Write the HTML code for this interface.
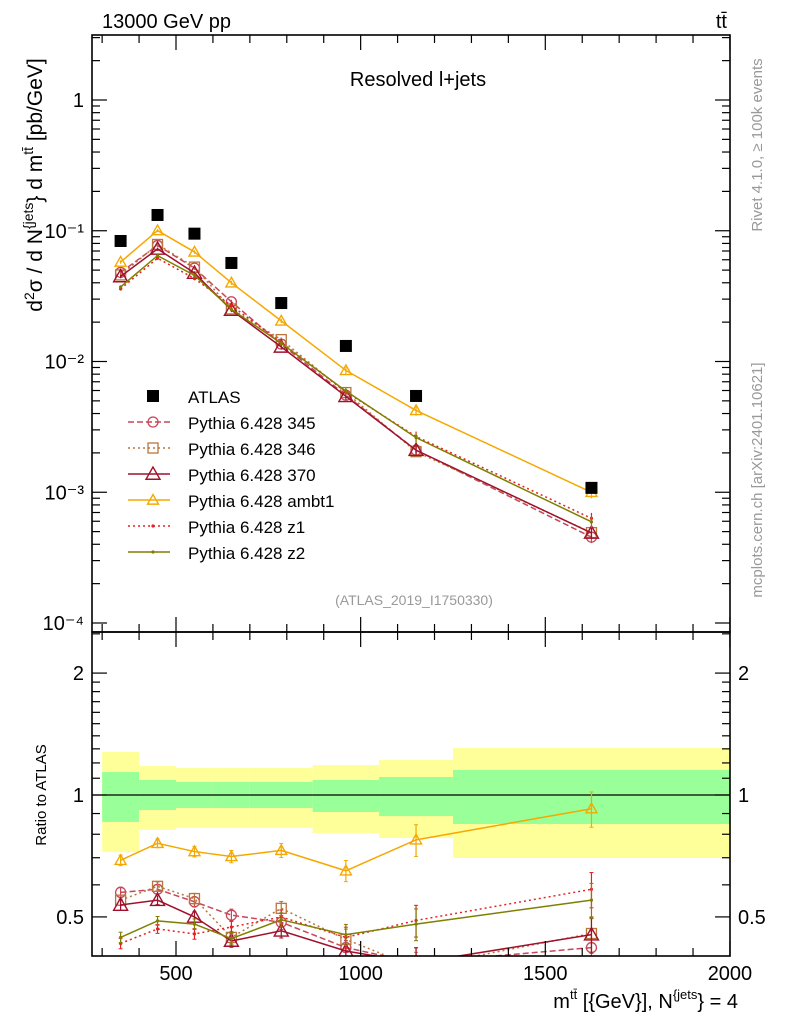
<!DOCTYPE html>
<html><head><meta charset="utf-8"><style>
html,body{margin:0;padding:0;background:#fff;}
svg{display:block;font-family:"Liberation Sans",sans-serif;}
</style></head><body>
<svg id="chart" width="786" height="1024" viewBox="0 0 786 1024" xmlns="http://www.w3.org/2000/svg">
<rect width="786" height="1024" fill="#fff"/>
<g id="ratio-bands"></g>
<g id="marks"></g>
<g id="axes"></g>
<text x="102" y="28" font-size="20">13000 GeV pp</text>
<text x="727" y="28" font-size="20" text-anchor="end">tt̄</text>
<text x="418" y="86" font-size="20" text-anchor="middle">Resolved l+jets</text>
<text x="414" y="605" font-size="14" fill="#999" text-anchor="middle">(ATLAS_2019_I1750330)</text>
<text transform="translate(762,145) rotate(-90)" font-size="15" fill="#999" text-anchor="middle">Rivet 4.1.0, ≥ 100k events</text>
<text transform="translate(762,480) rotate(-90)" font-size="15" fill="#999" text-anchor="middle">mcplots.cern.ch [arXiv:2401.10621]</text>
<text transform="translate(42,185) rotate(-90)" font-size="21" text-anchor="middle">d<tspan font-size="14" dy="-8">2</tspan><tspan dy="8">σ  /  d N</tspan><tspan font-size="14" dy="-9">{jets</tspan><tspan dy="9">} d m</tspan><tspan font-size="14" dy="-9">tt̄</tspan><tspan dy="9"> [pb/GeV]</tspan></text>
<text transform="translate(46,795) rotate(-90)" font-size="15" text-anchor="middle">Ratio to ATLAS</text>
<text x="738" y="1008" font-size="20" text-anchor="end">m<tspan font-size="13" dy="-9">tt̄</tspan><tspan dy="9"> [{GeV}], N</tspan><tspan font-size="13" dy="-9">{jets</tspan><tspan dy="9">} = 4</tspan></text>
<g id="legend"></g>
</svg>
<script>
const xCenters=[350,450,550,650,785,960,1150,1625];
const binEdges=[300,400,500,600,700,870,1050,1250,2000];
const atlas=[0.0835,0.132,0.095,0.0567,0.028,0.01315,0.00545,0.00108];
const greenUp=[1.14,1.089,1.077,1.077,1.077,1.089,1.108,1.153];
const greenDn=[0.858,0.918,0.929,0.929,0.929,0.908,0.887,0.848];
const yellowUp=[1.277,1.179,1.166,1.166,1.166,1.186,1.22,1.306];
const yellowDn=[0.723,0.82,0.829,0.829,0.829,0.806,0.783,0.699];
const r345=[0.575,0.585,0.545,0.505,0.485,0.42,0.385,0.42];
const r346=[0.55,0.595,0.555,0.445,0.525,0.44,0.375,0.455];
const r370=[0.535,0.55,0.50,0.436,0.462,0.412,0.385,0.452];
const rAmbt1=[0.69,0.76,0.725,0.705,0.73,0.65,0.775,0.925];
const rZ1=[0.43,0.467,0.454,0.472,0.50,0.445,0.49,0.585];
const rZ2=[0.445,0.489,0.48,0.442,0.492,0.452,0.48,0.55];
const relErr=[0.03,0.025,0.03,0.035,0.04,0.06,0.09,0.1];
const mainTicks=["10⁻⁴","10⁻³","10⁻²","10⁻¹","1"];
const ratioTicks=[0.5,1,2];
const xTicks=[500,1000,1500,2000];

const NS="http://www.w3.org/2000/svg";
const L=92,R=730,T=35,MB=632,RB=956;
function X(v){return 176+(v-500)*0.3693;}
function Y(v){return 100-130.75*Math.log10(v);}
function YR(r){return 795-405*Math.log10(r);}
function el(tag,attrs,parent){const e=document.createElementNS(NS,tag);for(const k in attrs)e.setAttribute(k,attrs[k]);parent.appendChild(e);return e;}
const axes=document.getElementById('axes'),marks=document.getElementById('marks'),bands=document.getElementById('ratio-bands'),leg=document.getElementById('legend');

for(let i=0;i<binEdges.length-1;i++){
  const x0=X(binEdges[i]),x1=Math.min(X(binEdges[i+1]),R);
  const yb=el('rect',{x:x0,y:YR(yellowUp[i]),width:x1-x0,height:YR(yellowDn[i])-YR(yellowUp[i]),fill:'#ffff99'},bands);
  
  
  const gb=el('rect',{x:x0,y:YR(greenUp[i]),width:x1-x0,height:YR(greenDn[i])-YR(greenUp[i]),fill:'#99ff99'},bands);
  
  
}
const one=el('line',{x1:L,x2:R,y1:YR(1),y2:YR(1),stroke:'#000','stroke-width':1.2},bands);



const series=[
 {n:'345',r:r345,c:'#c8465a',dash:'6,3',m:'circle',label:'Pythia 6.428 345'},
 {n:'346',r:r346,c:'#b8763c',dash:'2,3',m:'square',label:'Pythia 6.428 346'},
 {n:'370',r:r370,c:'#a0102c',dash:'',m:'triangle',label:'Pythia 6.428 370'},
 {n:'ambt1',r:rAmbt1,c:'#f5a800',dash:'',m:'triangle',label:'Pythia 6.428 ambt1'},
 {n:'z1',r:rZ1,c:'#e82020',dash:'2,3',m:'dot',label:'Pythia 6.428 z1'},
 {n:'z2',r:rZ2,c:'#7f7f00',dash:'',m:'dot',label:'Pythia 6.428 z2'}
];
function marker(m,x,y,c,g,big){
  let e;
  if(m==='circle')e=el('circle',{cx:x,cy:y,r:5,fill:'none',stroke:c,'stroke-width':1.3},g);
  else if(m==='square')e=el('rect',{x:x-5,y:y-5,width:10,height:10,fill:'none',stroke:c,'stroke-width':1.3},g);
  else if(m==='triangle'){const s=big?7:5.5;e=el('polygon',{points:`${x},${y-s} ${x-s},${y+s*0.75} ${x+s},${y+s*0.75}`,fill:'none',stroke:c,'stroke-width':1.4},g);}
  else e=el('circle',{cx:x,cy:y,r:1.6,fill:c},g);
  return e;
}
const clipDefs=el('defs',{},document.getElementById('chart'));
const cp1=el('clipPath',{id:'cmain'},clipDefs);el('rect',{x:L,y:T,width:R-L,height:MB-T},cp1);
const cp2=el('clipPath',{id:'cratio'},clipDefs);el('rect',{x:L,y:MB,width:R-L,height:RB-MB},cp2);

series.forEach(s=>{
  const gm=el('g',{'clip-path':'url(#cmain)'},marks);
  
  
  const gr=el('g',{'clip-path':'url(#cratio)'},marks);
  
  
  const big=s.n==='370';
  const ptsM=xCenters.map((x,i)=>X(x)+','+Y(s.r[i]*atlas[i])).join(' ');
  const ptsR=xCenters.map((x,i)=>X(x)+','+YR(s.r[i])).join(' ');
  el('polyline',{points:ptsM,fill:'none',stroke:s.c,'stroke-width':1.5,'stroke-dasharray':s.dash},gm);
  el('polyline',{points:ptsR,fill:'none',stroke:s.c,'stroke-width':1.5,'stroke-dasharray':s.dash},gr);
  xCenters.forEach((x,i)=>{
    const v=s.r[i]*atlas[i],e=relErr[i];
    el('line',{x1:X(x),x2:X(x),y1:Y(v*(1+e)),y2:Y(v*(1-e)),stroke:s.c,'stroke-width':1.2},gm);
    const mm=marker(s.m,X(x),Y(v),s.c,gm,big);
    
    
    el('line',{x1:X(x),x2:X(x),y1:YR(s.r[i]*(1+e)),y2:YR(s.r[i]*(1-e)),stroke:s.c,'stroke-width':1.2},gr);
    el('line',{x1:X(x)-2,x2:X(x)+2,y1:YR(s.r[i]*(1+e)),y2:YR(s.r[i]*(1+e)),stroke:s.c,'stroke-width':1},gr);
    el('line',{x1:X(x)-2,x2:X(x)+2,y1:YR(s.r[i]*(1-e)),y2:YR(s.r[i]*(1-e)),stroke:s.c,'stroke-width':1},gr);
    const rm=marker(s.m,X(x),YR(s.r[i]),s.c,gr,big);
    
    
  });
});
xCenters.forEach((x,i)=>{
  const d=el('rect',{x:X(x)-6,y:Y(atlas[i])-6,width:12,height:12,fill:'#000'},marks);
  
  
});

[[T,MB],[MB,RB]].forEach(([t,b],k)=>{
  const f=el('rect',{x:L,y:t,width:R-L,height:b-t,fill:'none',stroke:'#000','stroke-width':1.6},axes);
  
  
  for(let v=300;v<=2000;v+=100){
    const len=(v%500===0)?15:8, x=X(v);
    el('line',{x1:x,x2:x,y1:b,y2:b-len,stroke:'#000','stroke-width':1.2},axes);
    el('line',{x1:x,x2:x,y1:t,y2:t+len,stroke:'#000','stroke-width':1.2},axes);
  }
});
xTicks.forEach(v=>{
  const t=el('text',{x:X(v),y:980,'font-size':20,'text-anchor':'middle'},axes);
  t.textContent=v;
  
  
});
for(let p=-4;p<=0;p++){
  for(let m=1;m<10;m++){
    const v=m*Math.pow(10,p),y=Y(v);
    if(y<T||y>MB)continue;
    const len=m===1?15:8;
    el('line',{x1:L,x2:L+len,y1:y,y2:y,stroke:'#000','stroke-width':1.2},axes);
    el('line',{x1:R,x2:R-len,y1:y,y2:y,stroke:'#000','stroke-width':1.2},axes);
  }
  const t=el('text',{x:84,y:Y(Math.pow(10,p))+7,'font-size':20,'text-anchor':'end'},axes);
  t.textContent=mainTicks[p+4];
  
  
}
for(let v=0.4;v<=2.5001;v+=(v<1.999?0.1:0.5)){
  const y=YR(v);if(y<MB||y>RB)continue;
  const major=Math.abs(v-0.5)<1e-6||Math.abs(v-1)<1e-6||Math.abs(v-2)<1e-6;
  const len=major?15:8;
  el('line',{x1:L,x2:L+len,y1:y,y2:y,stroke:'#000','stroke-width':1.2},axes);
  el('line',{x1:R,x2:R-len,y1:y,y2:y,stroke:'#000','stroke-width':1.2},axes);
}
ratioTicks.forEach(v=>{
  const a=el('text',{x:84,y:YR(v)+7,'font-size':20,'text-anchor':'end'},axes);a.textContent=v;
  
  
  const b=el('text',{x:738,y:YR(v)+7,'font-size':20},axes);b.textContent=v;
  
  
});
const lg0=396,ls=26;
const la=el('rect',{x:147,y:lg0-6,width:12,height:12,fill:'#000'},leg);


const lt=el('text',{x:188,y:lg0+7,'font-size':17},leg);lt.textContent='ATLAS';


series.forEach((s,i)=>{
  const y=lg0+ls*(i+1);
  const g=el('g',{},leg);
  
  
  el('line',{x1:128,x2:170,y1:y,y2:y,stroke:s.c,'stroke-width':1.5,'stroke-dasharray':s.dash},g);
  marker(s.m,153,y,s.c,g,s.n==='370');
  const t=el('text',{x:188,y:y+7,'font-size':17},g);t.textContent=s.label;
});
</script>
</body></html>
